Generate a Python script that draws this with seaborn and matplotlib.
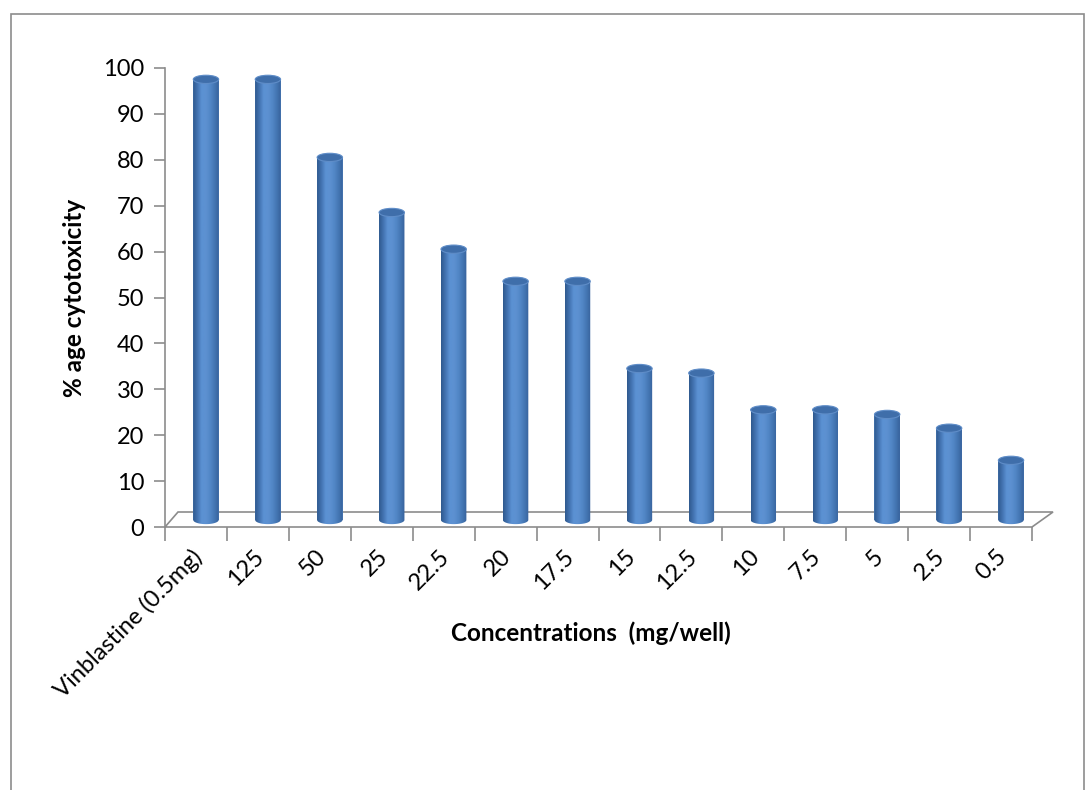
import numpy as np
import pandas as pd
import seaborn as sns
import matplotlib
matplotlib.use("Agg")
import matplotlib.pyplot as plt
from matplotlib.patches import Ellipse, Polygon, PathPatch, Rectangle
from matplotlib.path import Path
from matplotlib.transforms import ScaledTranslation
from matplotlib.colors import LinearSegmentedColormap

# Cytotoxicity of each concentration
categories = ["Vinblastine (0.5mg)", "125", "50", "25", "22.5", "20", "17.5",
              "15", "12.5", "10", "7.5", "5", "2.5", "0.5"]
cytotoxicity = [96, 96, 79, 67, 59, 52, 52, 33, 32, 24, 24, 23, 20, 13]
y_ticks = list(range(0, 101, 10))

sns.set_theme(style="white")
plt.rcParams["font.family"] = ["Lato", "DejaVu Sans"]

DPI = 100
W, H = 1090, 790
fig = plt.figure(figsize=(W / DPI, H / DPI), dpi=DPI)
fig.patch.set_facecolor("white")

# outer chart frame
fig.add_artist(Rectangle((11 / W, -0.05), (1084 - 11) / W, 1.05 - 14 / H,
                         transform=fig.transFigure, fill=False,
                         edgecolor="#8c8c8c", linewidth=1.2))

L, R, T, B = 165, 1032, 68, 527
ax = fig.add_axes([L / W, 1 - B / H, (R - L) / W, (B - T) / H])

df = pd.DataFrame({"conc": categories, "pct": cytotoxicity})
BAR_W = 0.41
sns.barplot(data=df, x="conc", y="pct", order=categories, color="#4F81BD",
            saturation=1, width=BAR_W, ax=ax)

ax.set_xlim(-0.5, len(categories) - 0.5)
ax.set_ylim(0, 100)

# depth offset: columns stand in the middle of the 3-D floor
depth = ScaledTranslation(10 / DPI, 7 / DPI, fig.dpi_scale_trans)
tr = ax.transData + depth

body_cmap = LinearSegmentedColormap.from_list(
    "cyl", ["#2f5a8f", "#4374b2", "#5b91d3", "#5d91d1", "#5287c7",
            "#4577b4", "#37629c"])
grad = np.linspace(0, 1, 64).reshape(1, -1)
ell_h = 1.8

for p in ax.patches:
    x0, w, h = p.get_x(), p.get_width(), p.get_height()
    cx = x0 + w / 2
    p.set_transform(tr)
    p.set_edgecolor("none")
    # outline of a cylinder side: rectangle with rounded lower edge
    t = np.linspace(np.pi, 2 * np.pi, 40)
    pts = [(cx + w / 2 * np.cos(a), ell_h / 2 * np.sin(a)) for a in t]
    pts += [(x0 + w, h), (x0, h), pts[0]]
    codes = [Path.MOVETO] + [Path.LINETO] * (len(pts) - 2) + [Path.CLOSEPOLY]
    clip = PathPatch(Path(pts, codes), transform=tr, facecolor="none",
                     edgecolor="none")
    ax.add_patch(clip)
    im = ax.imshow(grad, cmap=body_cmap, aspect="auto",
                   extent=[x0, x0 + w, -ell_h, h], zorder=3)
    im.set_transform(tr)
    im.set_clip_path(clip)
    top = Ellipse((cx, h), w, ell_h, transform=tr, facecolor="#3f6eaa",
                  edgecolor="#5f8dc8", linewidth=0.8, zorder=4)
    ax.add_patch(top)

ax.set_xlim(-0.5, len(categories) - 0.5)
ax.set_ylim(0, 100)

# 3-D floor
fx_l, fx_r, fdy = 13 / (R - L), 21 / (R - L), 15 / (B - T)
floor = Polygon([(0, 0), (1, 0), (1 + fx_r, fdy), (fx_l, fdy)], closed=True,
                transform=ax.transAxes, facecolor="white", edgecolor="#8c8c8c",
                linewidth=1.2, clip_on=False, zorder=0.5)
ax.add_patch(floor)

grey = "#8c8c8c"
for side in ["top", "right", "bottom"]:
    ax.spines[side].set_visible(False)
ax.spines["left"].set_color(grey)
ax.spines["left"].set_linewidth(1.2)

ax.set_yticks(y_ticks)
ax.set_yticklabels([str(v) for v in y_ticks], fontsize=17, color="black")
ax.tick_params(axis="y", which="major", left=True, length=8, width=1.2,
               color=grey, pad=7, direction="out")

pos = np.arange(len(categories))
ax.set_xticks(pos + 0.04)
ax.set_xticklabels(categories, fontsize=17, color="black", rotation=45,
                   ha="right", va="center", rotation_mode="anchor")
ax.set_xticks(np.arange(-0.5, len(categories)), minor=True)
ax.tick_params(axis="x", which="major", bottom=True, length=0, pad=19)
ax.tick_params(axis="x", which="minor", bottom=True, length=10, width=1.2,
               color=grey, direction="out")

ax.set_xlabel("Concentrations  (mg/well)", fontsize=17.5, fontweight="bold",
              color="black")
ax.set_ylabel("% age cytotoxicity", fontsize=17.5, fontweight="bold",
              color="black")
ax.xaxis.set_label_coords((591 - L) / (R - L), -(633 - B) / (B - T))
ax.xaxis.label.set_va("center")
ax.yaxis.set_label_coords(-(L - 75) / (R - L), 0.5)
ax.yaxis.label.set_va("center")

ax.grid(False)
ax.set_facecolor("none")

fig.savefig("out.png", dpi=DPI, facecolor="white")
